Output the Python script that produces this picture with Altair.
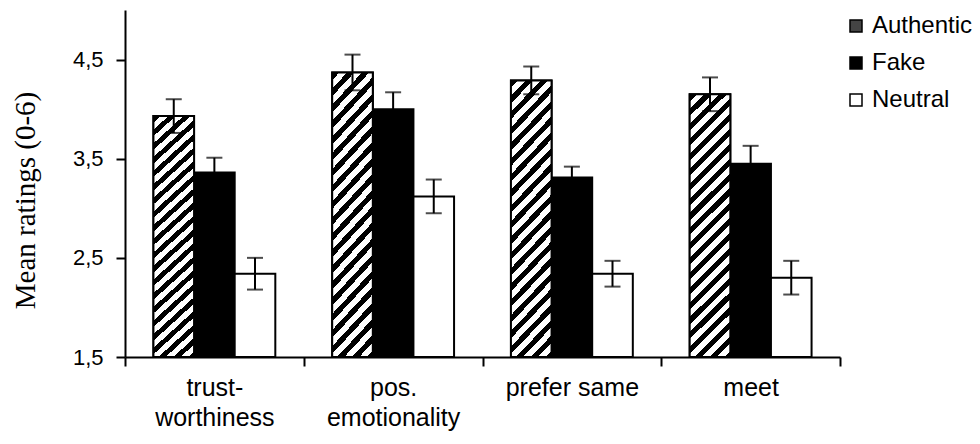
import altair as alt
import pandas as pd

categories = ["trust-\nworthiness", "pos.\nemotionality", "prefer same", "meet"]
conditions = ["Authentic", "Fake", "Neutral"]
authentic = [3.93, 4.37, 4.29, 4.15]
authentic_err = [0.17, 0.18, 0.14, 0.17]
fake = [3.36, 4.00, 3.31, 3.45]
fake_err = [0.15, 0.17, 0.11, 0.18]
neutral = [2.34, 3.12, 2.34, 2.30]
neutral_err = [0.16, 0.17, 0.13, 0.17]
y_ticks = [1.5, 2.5, 3.5, 4.5]
y_max = 5.0
fills = ["#444444", "black", "white"]

rows = []
for cond, vals, errs in zip(conditions, [authentic, fake, neutral],
                            [authentic_err, fake_err, neutral_err]):
    for cat, v, e in zip(categories, vals, errs):
        rows.append({"category": cat, "condition": cond, "mean": v,
                     "lo": v - e, "hi": v + e})
df = pd.DataFrame(rows)


def stripes(n, frac=0.45):
    s = []
    for k in range(n):
        a, b, c = k / n, (k + frac) / n, (k + 1) / n
        s += [{"offset": a, "color": "black"}, {"offset": b, "color": "black"},
              {"offset": b, "color": "white"}, {"offset": c, "color": "white"}]
    return s


hatch = alt.LinearGradient(gradient="linear", stops=stripes(22, 0.48),
                           x1=0, y1=0, x2=0.187, y2=1.216)

x_axis = alt.Axis(title=None, tickBand="extent", labelAngle=0,
                  labelExpr="isValid(datum.value) ? split(datum.value, '\\n') : ''",
                  labelFont="Liberation Sans", labelFontSize=25,
                  labelLineHeight=30, labelPadding=9, tickSize=9)
y_axis = alt.Axis(values=y_ticks, title="Mean ratings (0-6)",
                  labelExpr="replace(format(datum.value, '.1f'), '.', ',')",
                  labelFont="Liberation Sans", labelFontSize=22,
                  labelPadding=13, tickSize=9,
                  titleFont="Liberation Serif", titleFontSize=29,
                  titleFontWeight="normal", titleAngle=-90,
                  titleX=-100, titleY=190, titleBaseline="middle",
                  titleAlign="center")

x_scale = alt.Scale(domain=categories, paddingInner=0, paddingOuter=0)
xo_scale = alt.Scale(domain=conditions, paddingInner=0, paddingOuter=0.7)
y_scale = alt.Scale(domain=[y_ticks[0], y_max], nice=False, zero=False)

legend = alt.Legend(
    title=None, orient="none", legendX=719, legendY=4, padding=0,
    symbolType="square", symbolSize=144, symbolStrokeColor="black",
    symbolStrokeWidth=1.5, labelFont="Liberation Sans", labelFontSize=24,
    labelColor="black", labelOffset=4, rowPadding=13,
)

base = alt.Chart(df)


def xy(yfield):
    return dict(
        x=alt.X("category:N", sort=categories, scale=x_scale, axis=x_axis),
        xOffset=alt.XOffset("condition:N", sort=conditions, scale=xo_scale),
        y=alt.Y(yfield, scale=y_scale, axis=y_axis),
    )


bars = base.mark_bar(stroke="black", strokeWidth=2).encode(
    **xy("mean:Q"),
    y2=alt.datum(y_ticks[0]),
    color=alt.Color("condition:N", scale=alt.Scale(domain=conditions, range=fills),
                    legend=legend),
)

hatched = base.transform_filter(alt.datum.condition == "Authentic").mark_bar(
    fill=hatch, stroke="black", strokeWidth=2).encode(
    **xy("mean:Q"),
    y2=alt.datum(y_ticks[0]),
)

err = base.mark_rule(color="black", strokeWidth=2).encode(
    **xy("lo:Q"),
    y2="hi:Q",
)

cap_hi = base.mark_tick(color="black", thickness=2, size=16).encode(**xy("hi:Q"))
cap_lo = base.mark_tick(color="black", thickness=2, size=16).encode(**xy("lo:Q"))

chart = alt.layer(bars, hatched, err, cap_hi, cap_lo).properties(
    width=715, height=347,
    autosize=alt.AutoSizeParams(type="none"),
    padding={"left": 117, "top": 2, "right": 132, "bottom": 79},
).configure_view(stroke=None).configure_axis(
    domainColor="black", domainWidth=2, tickColor="black", tickWidth=2,
    labelColor="black", titleColor="black", grid=False,
)

chart.save("out.html", embed_options={"renderer": "svg", "actions": False})
